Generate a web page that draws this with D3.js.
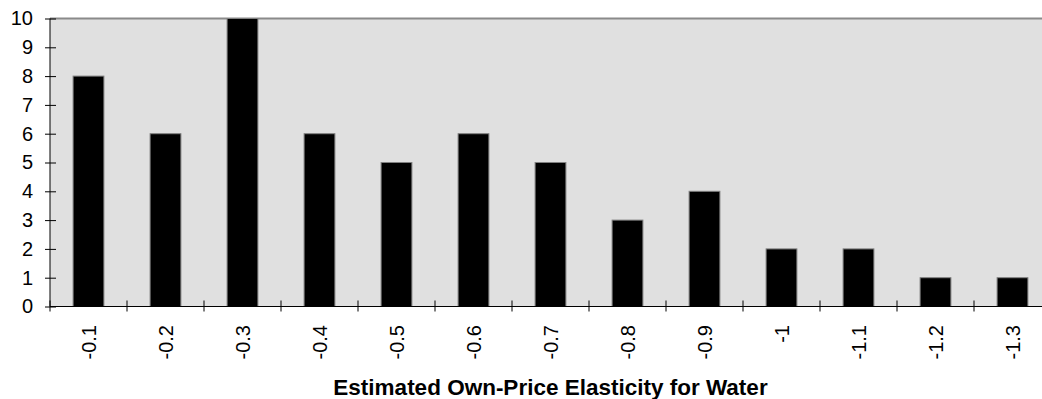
<!DOCTYPE html>
<html>
<head>
<meta charset="utf-8">
<script src="https://cdn.jsdelivr.net/npm/d3@7"></script>
<style>
  html, body { margin: 0; padding: 0; background: #fff; }
  svg { display: block; font-family: "Liberation Sans", Arial, sans-serif; }
</style>
</head>
<body>
<svg id="chart" width="1042" height="399"></svg>
<script>
// Number of studies per estimated own-price elasticity
const categories = ["-0.1", "-0.2", "-0.3", "-0.4", "-0.5", "-0.6", "-0.7", "-0.8", "-0.9", "-1", "-1.1", "-1.2", "-1.3"];
const counts = [8, 6, 10, 6, 5, 6, 5, 3, 4, 2, 2, 1, 1];
const yTicks = [0, 1, 2, 3, 4, 5, 6, 7, 8, 9, 10];
const xTitle = "Estimated Own-Price Elasticity for Water";

const svg = d3.select("#chart");
const plotLeft = 50, plotRight = 1051, plotTop = 18.5, plotBottom = 306.5;

const x = d3.scaleBand().domain(categories).range([plotLeft, plotRight]).paddingInner(0.6).paddingOuter(0.3);
const y = d3.scaleLinear().domain([0, 10]).range([plotBottom, plotTop]);

// plot area
svg.append("rect")
  .attr("x", plotLeft).attr("y", plotTop)
  .attr("width", plotRight - plotLeft).attr("height", plotBottom - plotTop)
  .attr("fill", "#e0e0e0");
svg.append("line")
  .attr("x1", plotLeft).attr("x2", plotRight)
  .attr("y1", plotTop).attr("y2", plotTop)
  .attr("stroke", "#8a8a8a").attr("stroke-width", 2);

// bars
svg.append("g").selectAll("rect")
  .data(counts)
  .join("rect")
  .attr("x", (d, i) => x(categories[i]))
  .attr("y", d => y(d))
  .attr("width", x.bandwidth())
  .attr("height", d => y(0) - y(d))
  .attr("fill", "#000")
  .attr("stroke", "#808080")
  .attr("stroke-width", 1);

// y axis
const yAxis = svg.append("g")
  .attr("transform", `translate(${plotLeft},0)`)
  .call(d3.axisLeft(y).tickValues(yTicks).tickFormat(d3.format("d")).tickSize(5).tickPadding(12));
yAxis.selectAll(".tick line").attr("x1", 6).attr("x2", -5);
yAxis.select(".domain").attr("d", `M0,${plotTop}V${plotBottom}`);
yAxis.selectAll("text")
  .attr("font-size", 20).attr("fill", "#000")
  .attr("font-family", "'Liberation Sans', Arial, sans-serif");
yAxis.selectAll(".domain, .tick line").attr("stroke", "#000");

// x axis: ticks between categories
const step = x.step();
const boundaries = d3.range(categories.length + 1).map(i => plotLeft + i * step);
const xAxis = svg.append("g");
xAxis.append("line")
  .attr("x1", plotLeft).attr("x2", plotRight)
  .attr("y1", plotBottom).attr("y2", plotBottom)
  .attr("stroke", "#000");
xAxis.selectAll("line.tk")
  .data(boundaries)
  .join("line")
  .attr("class", "tk")
  .attr("x1", d => d).attr("x2", d => d)
  .attr("y1", plotBottom - 6).attr("y2", plotBottom + 5)
  .attr("stroke", "#000");

// rotated category labels
svg.append("g").selectAll("text")
  .data(categories)
  .join("text")
  .attr("transform", d => `translate(${x(d) + x.bandwidth() / 2 + 7},${plotBottom + 18.5}) rotate(-90)`)
  .attr("text-anchor", "end")
  .attr("font-size", 20)
  .attr("fill", "#000")
  .text(d => d);

// axis title
svg.append("text")
  .attr("x", (plotLeft + plotRight) / 2).attr("y", 395)
  .attr("text-anchor", "middle")
  .attr("font-size", 22.5)
  .attr("font-weight", "bold")
  .attr("fill", "#000")
  .text(xTitle);
</script>
</body>
</html>
